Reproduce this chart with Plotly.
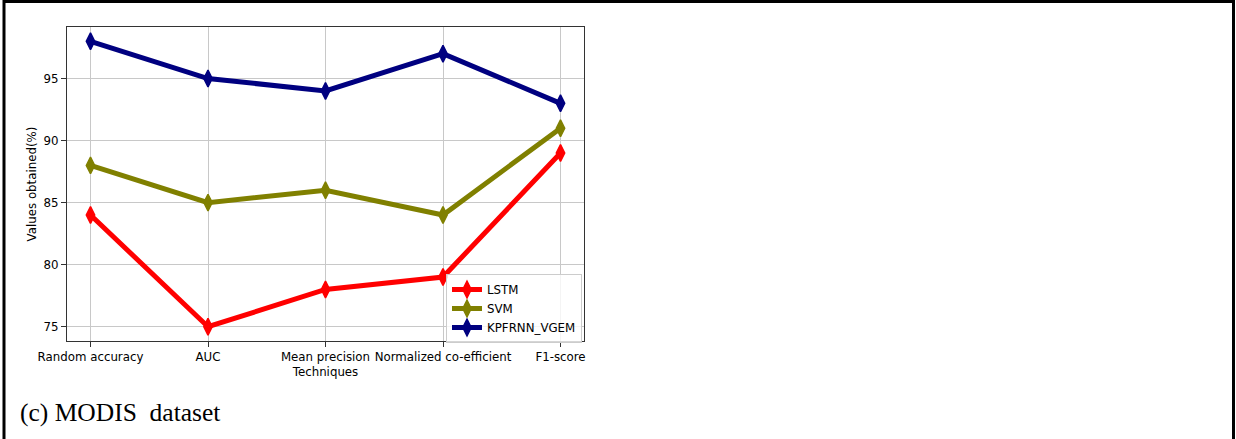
import plotly.graph_objects as go

categories = ["Random accuracy", "AUC", "Mean precision", "Normalized co-efficient", "F1-score"]
lstm = [84, 75, 78, 79, 89]
svm = [88, 85, 86, 84, 91]
kpfrnn = [98, 95, 94, 97, 93]
y_ticks = [75, 80, 85, 90, 95]

W, H = 1236, 439
L, R, T, B = 67, 584, 27, 341  # plot area pixels
pw, ph = R - L, B - T

def px(x):
    return (x - L) / pw

def py(y):
    return (B - y) / ph

fig = go.Figure()
series = [("LSTM", lstm, "#ff0000"), ("SVM", svm, "#808000"), ("KPFRNN_VGEM", kpfrnn, "#000080")]
for name, vals, col in series:
    fig.add_trace(go.Scatter(
        x=list(range(len(categories))), y=vals, name=name, mode="lines+markers",
        line=dict(color=col, width=5),
        marker=dict(symbol="diamond-tall", size=12, color=col, line=dict(color=col, width=1.5)),
    ))

font = dict(family="DejaVu Sans", size=11.8, color="black")
fig.update_layout(
    width=W, height=H,
    margin=dict(l=L, r=W - R, t=T, b=H - B, autoexpand=False),
    paper_bgcolor="white", plot_bgcolor="white",
    font=font,
    showlegend=True,
    legend=dict(x=px(446), y=py(274), xanchor="left", yanchor="top",
                bgcolor="rgba(255,255,255,0.8)", bordercolor="#cccccc", borderwidth=1,
                font=font, tracegroupgap=0, itemwidth=30),
    xaxis=dict(
        range=[-0.2, 4.2], tickmode="array", tickvals=list(range(len(categories))),
        ticktext=categories, showgrid=True, gridcolor="#c8c8c8", gridwidth=1,
        showline=True, linecolor="#333333", linewidth=1, mirror=True,
        ticks="outside", ticklen=5, tickcolor="#333333", zeroline=False,
        title=dict(text="Techniques", font=font, standoff=4),
    ),
    yaxis=dict(
        range=[73.85, 99.15], tickmode="array", tickvals=y_ticks,
        ticktext=[str(v) for v in y_ticks], showgrid=True, gridcolor="#c8c8c8", gridwidth=1,
        showline=True, linecolor="#333333", linewidth=1, mirror=True,
        ticks="outside", ticklen=5, tickcolor="#333333", zeroline=False,
        title=dict(text="Values obtained(%)", font=font, standoff=4),
    ),
)

fig.add_annotation(
    text="(c) MODIS&nbsp;&nbsp;dataset", xref="paper", yref="paper",
    x=px(18), y=py(412), xanchor="left", yanchor="middle", showarrow=False,
    font=dict(family="Liberation Serif", size=25.5, color="black"),
)

fig.add_shape(
    type="rect", xref="paper", yref="paper",
    x0=px(4), x1=px(1233.5), y0=py(470), y1=py(1.5),
    line=dict(color="black", width=3), fillcolor="rgba(0,0,0,0)", layer="above",
)

fig.write_html(
    "out.html",
    config={"displayModeBar": False},
    post_script="document.body.style.margin='0';document.body.style.overflow='hidden';",
)
